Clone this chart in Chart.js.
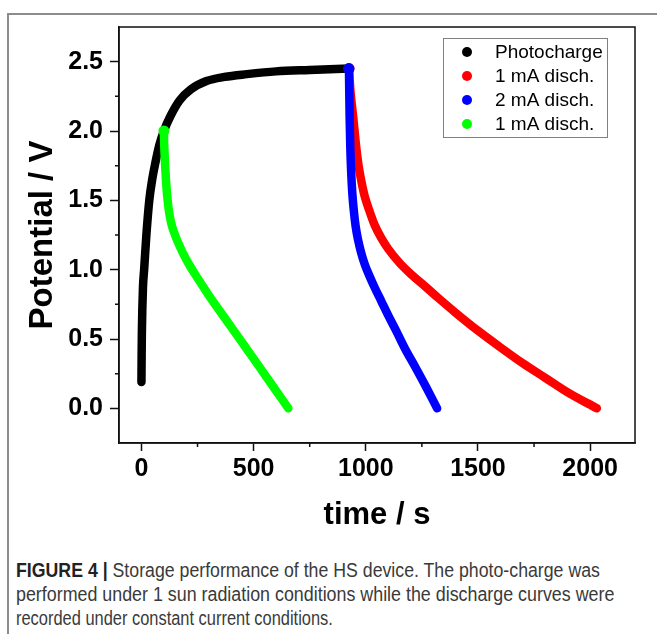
<!DOCTYPE html>
<html>
<head>
<meta charset="utf-8">
<script src="https://cdn.jsdelivr.net/npm/chart.js@4.4.1/dist/chart.umd.min.js"></script>
<style>
  body { margin: 0; background: #fff; width: 657px; height: 634px; overflow: hidden; position: relative;
         font-family: "Liberation Sans", Arial, sans-serif; }
  #frame { position: absolute; left: 7px; top: 13px; width: 700px; height: 700px;
           border-left: 2px solid #8c8c8c; border-top: 2px solid #8c8c8c; }
  #wrap { position: absolute; left: 0; top: 0; width: 657px; height: 540px; }
  .cap { position: absolute; left: 16px; font-size: 20px; line-height: 24px; color: #3a3a3a;
         white-space: nowrap; transform-origin: 0 50%; }
  .cap b { color: #222; }
</style>
</head>
<body>
<div id="frame"></div>
<div id="wrap"><canvas id="chart" width="657" height="540"></canvas></div>
<div class="cap" id="cap1" style="top:558px" data-w="584"><b>FIGURE 4 |</b> Storage performance of the HS device. The photo-charge was</div>
<div class="cap" id="cap2" style="top:582px" data-w="598">performed under 1 sun radiation conditions while the discharge curves were</div>
<div class="cap" id="cap3" style="top:606px" data-w="317">recorded under constant current conditions.</div>
<script>
// values (time in s, potential in V)
const photoT = [0, 1, 2, 4, 7, 12, 22, 35, 48, 62, 80, 100, 130, 170, 220, 290, 370, 470, 600, 750, 925];
const photoV = [0.19, 0.4, 0.55, 0.72, 0.88, 1.0, 1.25, 1.5, 1.65, 1.77, 1.9, 2.0, 2.11, 2.22, 2.3, 2.36, 2.39, 2.41, 2.43, 2.44, 2.45];

const red1T = [925, 927, 931, 937, 944, 955, 967, 980, 995, 1015, 1040, 1070, 1100, 1150, 1200, 1250, 1320, 1400, 1500, 1600, 1700, 1800, 1900, 2030];
const red1V = [2.45, 2.4, 2.3, 2.2, 2.1, 1.92, 1.76, 1.64, 1.53, 1.43, 1.32, 1.225, 1.15, 1.05, 0.97, 0.9, 0.8, 0.69, 0.56, 0.44, 0.325, 0.22, 0.115, 0.0];

const blue2T = [925, 926, 928, 931, 935, 940, 947, 955, 965, 978, 995, 1015, 1040, 1070, 1100, 1135, 1175, 1220, 1270, 1318];
const blue2V = [2.45, 2.32, 2.1, 1.88, 1.7, 1.55, 1.42, 1.31, 1.22, 1.13, 1.04, 0.96, 0.87, 0.77, 0.67, 0.56, 0.43, 0.3, 0.15, 0.0];

const greenT = [100, 101, 103, 106, 110, 115, 122, 132, 145, 162, 185, 215, 250, 298, 350, 405, 460, 521, 590, 655];
const greenV = [2.0, 1.93, 1.84, 1.74, 1.63, 1.53, 1.43, 1.34, 1.27, 1.2, 1.12, 1.03, 0.94, 0.82, 0.7, 0.575, 0.45, 0.31, 0.15, 0.0];

const seriesLabels = ['Photocharge', '1 mA disch.', '2 mA disch.', '1 mA disch.'];
const seriesColors = ['#000000', '#ff0000', '#0000ff', '#00ff00'];

const xMajor = [0, 500, 1000, 1500, 2000];
const xMinor = [250, 750, 1250, 1750];
const yMajor = [0, 0.5, 1.0, 1.5, 2.0, 2.5];
const yMinor = [0.25, 0.75, 1.25, 1.75, 2.25];

const FONT = '"Liberation Sans", Arial, sans-serif';

function pts(t, v) {
  return t.map((x, i) => ({ x: x, y: v[i] }));
}

function series(i, t, v, order) {
  return {
    label: seriesLabels[i],
    data: pts(t, v),
    showLine: true,
    borderColor: seriesColors[i],
    backgroundColor: seriesColors[i],
    borderWidth: 8.5,
    borderCapStyle: 'round',
    borderJoinStyle: 'round',
    cubicInterpolationMode: 'monotone',
    pointRadius: t.map((_, k) => (k === 0 && i > 0 ? 5.5 : 0)),
    pointBorderWidth: 0,
    pointHoverRadius: 0,
    order: order
  };
}

// axis box, minor ticks and the boxed legend
const extras = {
  id: 'extras',
  afterDraw(chart) {
    const ctx = chart.ctx;
    const a = chart.chartArea;
    const xs = chart.scales.x, ys = chart.scales.y;
    ctx.save();
    ctx.strokeStyle = '#111';
    ctx.lineWidth = 1.5;
    ctx.strokeRect(a.left, a.top, a.right - a.left, a.bottom - a.top);

    ctx.beginPath();
    xMinor.forEach(v => {
      const px = xs.getPixelForValue(v);
      ctx.moveTo(px, a.bottom);
      ctx.lineTo(px, a.bottom + 4);
    });
    yMinor.forEach(v => {
      const py = ys.getPixelForValue(v);
      ctx.moveTo(a.left, py);
      ctx.lineTo(a.left - 4, py);
    });
    ctx.stroke();

    const lx = a.right - 192, ly = a.top + 11, lw = 164, lh = 99;
    ctx.strokeStyle = '#808080';
    ctx.lineWidth = 1;
    ctx.strokeRect(lx + 0.5, ly + 0.5, lw, lh);
    ctx.font = '19px ' + FONT;
    ctx.textBaseline = 'middle';
    ctx.textAlign = 'left';
    chart.data.datasets.forEach((ds, i) => {
      const ry = ly + 14 + i * 24;
      ctx.fillStyle = ds.borderColor;
      ctx.beginPath();
      ctx.arc(lx + 24, ry, 5, 0, Math.PI * 2);
      ctx.fill();
      ctx.fillStyle = '#000';
      ctx.fillText(ds.label, lx + 52, ry + 1);
    });
    ctx.restore();
  }
};

const ctx = document.getElementById('chart').getContext('2d');
const chart = new Chart(ctx, {
  type: 'scatter',
  data: {
    datasets: [
      series(0, photoT, photoV, 4),
      series(1, red1T, red1V, 3),
      series(2, blue2T, blue2V, 2),
      series(3, greenT, greenV, 1)
    ]
  },
  options: {
    responsive: false,
    animation: false,
    events: [],
    layout: { padding: { top: 27, right: 22, left: 0, bottom: 0 } },
    plugins: { legend: { display: false }, tooltip: { enabled: false } },
    scales: {
      x: {
        type: 'linear',
        min: -100,
        max: 2200,
        afterBuildTicks: s => { s.ticks = xMajor.map(v => ({ value: v })); },
        afterFit: s => { s.height = 97; },
        ticks: { color: '#000', font: { family: FONT, size: 25, weight: 'bold' }, padding: 3,
                 maxRotation: 0, autoSkip: false, callback: v => String(v) },
        grid: { drawOnChartArea: false, tickLength: 8, color: '#111', tickWidth: 1.5 },
        border: { display: true, color: '#111', width: 1.5 },
        title: { display: true, text: 'time / s', color: '#000',
                 font: { family: FONT, size: 31, weight: 'bold' }, padding: { top: 0, bottom: 6 } }
      },
      y: {
        type: 'linear',
        min: -0.25,
        max: 2.75,
        afterBuildTicks: s => { s.ticks = yMajor.map(v => ({ value: v })); },
        afterFit: s => { s.width = 119; },
        ticks: { color: '#000', font: { family: FONT, size: 25, weight: 'bold' }, padding: 7,
                 callback: v => Number(v).toFixed(1) },
        grid: { drawOnChartArea: false, tickLength: 9, color: '#111', tickWidth: 1.5 },
        border: { display: true, color: '#111', width: 1.5 },
        title: { display: true, text: 'Potential / V', color: '#000',
                 font: { family: FONT, size: 33, weight: 'bold' }, padding: { top: 23, bottom: 0 } }
      }
    }
  },
  plugins: [extras]
});

// squeeze caption lines to the narrow face used in the figure
document.querySelectorAll('.cap').forEach(el => {
  const w = el.scrollWidth;
  el.style.transform = 'scaleX(' + (Number(el.dataset.w) / w) + ')';
});
</script>
</body>
</html>
